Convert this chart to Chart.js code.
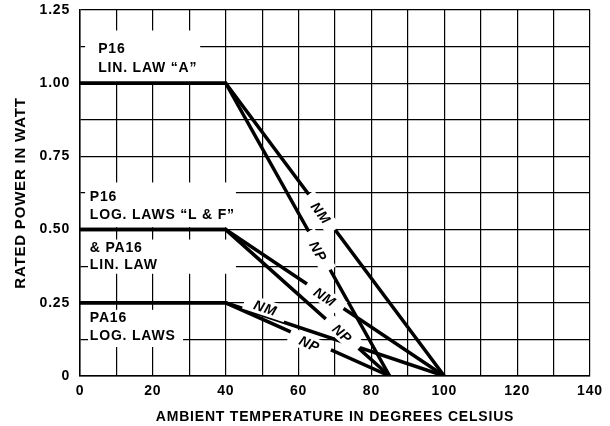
<!DOCTYPE html>
<html>
<head>
<meta charset="utf-8">
<script src="https://cdn.jsdelivr.net/npm/chart.js@4.4.1/dist/chart.umd.min.js"></script>
<style>
    html, body { margin: 0; padding: 0; background: #fff; }
    #wrap { width: 610px; height: 426px; }
</style>
</head>
<body>
<div id="wrap"><canvas id="deratingChart"></canvas></div>
<script>
// temperature break points (deg C) for the two tolerance classes
var tempNM = [0, 40, 100];
var tempNP = [0, 40, 85];

// rated power (W) for each pot family
var powerP16Lin = [1.0, 1.0, 0];
var powerP16Log = [0.5, 0.5, 0];
var powerPA16Log = [0.25, 0.25, 0];

var font = "'Liberation Sans', Arial, Helvetica, sans-serif";

function toPoints(xs, ys) {
    return xs.map(function(x, i) { return { x: x, y: ys[i] }; });
}

function line(xs, ys) {
    return {
        data: toPoints(xs, ys),
        showLine: true,
        borderColor: '#000',
        borderWidth: 3.5,
        pointRadius: 0,
        fill: false
    };
}

var datasets = [
    line(tempNM, powerP16Lin),
    line(tempNP, powerP16Lin),
    line(tempNM, powerP16Log),
    line(tempNP, powerP16Log),
    line(tempNM, powerPA16Log),
    line(tempNP, powerPA16Log)
];

// text blocks on the left, with white boxes over the grid (data units)
var notes = [
    { lines: ['P16', 'LIN. LAW \u201CA\u201D'], x: 5, y: [1.116, 1.053], box: [1.4, 33, 1.003, 1.18] },
    { lines: ['P16', 'LOG. LAWS \u201CL & F\u201D'], x: 2.7, y: [0.610, 0.550], box: [1.4, 42.8, 0.508, 0.661] },
    { lines: ['& PA16', 'LIN. LAW'], x: 2.7, y: [0.438, 0.378], box: [2.2, 42.8, 0.349, 0.466] },
    { lines: ['PA16', 'LOG. LAWS'], x: 2.7, y: [0.197, 0.135], box: [2.2, 28.3, 0.099, 0.226] }
];

// NM / NP tags along the sloped lines
var tags = [
    { text: 'NM', ds: 0, x: 66.1, y: 0.557 },
    { text: 'NP', ds: 1, x: 65.4, y: 0.426 },
    { text: 'NM', ds: 2, x: 67.2, y: 0.270 },
    { text: 'NP', ds: 3, x: 72.0, y: 0.145 },
    { text: 'NM', ds: 4, x: 50.9, y: 0.233 },
    { text: 'NP', ds: 5, x: 63.0, y: 0.110 }
];

var notesPlugin = {
    id: 'notes',
    beforeDraw: function(chart) {
        chart.ctx.letterSpacing = '0.8px';
    },
    beforeDatasetsDraw: function(chart) {
        var c = chart.ctx, xs = chart.scales.x, ys = chart.scales.y;
        c.save();
        c.font = 'bold 14px ' + font;
        c.textBaseline = 'middle';
        c.textAlign = 'left';
        notes.forEach(function(n) {
            var x0 = xs.getPixelForValue(n.box[0]), x1 = xs.getPixelForValue(n.box[1]);
            var y0 = ys.getPixelForValue(n.box[3]), y1 = ys.getPixelForValue(n.box[2]);
            c.fillStyle = '#fff';
            c.fillRect(x0, y0, x1 - x0, y1 - y0);
            c.fillStyle = '#000';
            n.lines.forEach(function(t, i) {
                c.fillText(t, xs.getPixelForValue(n.x), ys.getPixelForValue(n.y[i]));
            });
        });
        c.restore();
    },
    afterDatasetsDraw: function(chart) {
        var c = chart.ctx, xs = chart.scales.x, ys = chart.scales.y;
        c.save();
        c.font = 'italic bold 14px ' + font;
        c.textBaseline = 'middle';
        c.textAlign = 'center';
        tags.forEach(function(t) {
            var pts = chart.data.datasets[t.ds].data;
            var a = pts[1], b = pts[2];
            var ang = Math.atan2(ys.getPixelForValue(b.y) - ys.getPixelForValue(a.y),
                                 xs.getPixelForValue(b.x) - xs.getPixelForValue(a.x));
            c.save();
            c.translate(xs.getPixelForValue(t.x), ys.getPixelForValue(t.y));
            c.rotate(ang);
            c.fillStyle = '#fff';
            c.fillRect(-22, -8, 44, 16);
            c.fillStyle = '#000';
            c.fillText(t.text, 0, 1);
            c.restore();
        });
        c.restore();
    }
};

var ctx = document.getElementById('deratingChart').getContext('2d');
var deratingChart = new Chart(ctx, {
    type: 'scatter',
    data: { datasets: datasets },
    plugins: [notesPlugin],
    options: {
        responsive: true,
        maintainAspectRatio: false,
        animation: false,
        layout: { padding: { top: 10, right: 20, left: 0, bottom: 0 } },
        plugins: {
            legend: { display: false },
            tooltip: { enabled: false }
        },
        scales: {
            x: {
                type: 'linear',
                min: 0,
                max: 140,
                afterFit: function(s) { s.height = 50; },
                ticks: {
                    stepSize: 10,
                    autoSkip: false,
                    maxRotation: 0,
                    padding: 7,
                    color: '#000',
                    font: { family: font, size: 14, weight: 'bold' },
                    callback: function(v) { return v % 20 === 0 ? String(v) : ''; }
                },
                grid: { color: '#000', lineWidth: 1.2, drawTicks: false },
                border: { color: '#000', width: 1.5 },
                title: {
                    display: true,
                    text: 'AMBIENT TEMPERATURE IN DEGREES CELSIUS',
                    color: '#000',
                    font: { family: font, size: 14, weight: 'bold' },
                    padding: { top: 4, bottom: 0 }
                }
            },
            y: {
                min: 0,
                max: 1.25,
                afterFit: function(s) {
                    s.width = 80;
                    s.paddingTop = 0;
                    s.paddingBottom = 0;
                },
                ticks: {
                    stepSize: 0.125,
                    autoSkip: false,
                    padding: 10,
                    color: '#000',
                    font: { family: font, size: 14, weight: 'bold' },
                    callback: function(v) {
                        if (Math.round(v * 8) % 2 !== 0) return '';
                        return v === 0 ? '0' : v.toFixed(2);
                    }
                },
                grid: { color: '#000', lineWidth: 1.2, drawTicks: false },
                border: { color: '#000', width: 1.5 },
                title: {
                    display: true,
                    text: 'RATED POWER IN WATT',
                    color: '#000',
                    font: { family: font, size: 15, weight: 'bold' },
                    padding: { top: 12, bottom: 0 }
                }
            }
        }
    }
});
</script>
</body>
</html>
